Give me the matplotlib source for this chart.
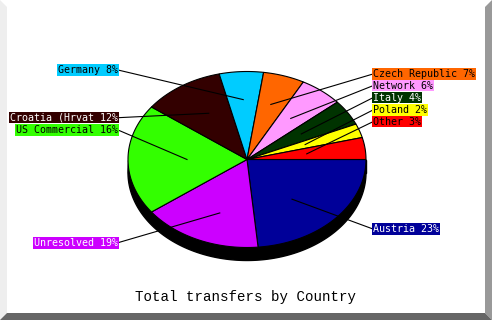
import numpy as np
import matplotlib.pyplot as plt
from matplotlib.patches import Polygon

# data
countries = ['Austria', 'Unresolved', 'US Commercial', 'Croatia (Hrvat', 'Germany',
             'Czech Republic', 'Network', 'Italy', 'Poland', 'Other']
percent = [23, 19, 16, 12, 8, 7, 6, 4, 2, 3]
colors = ['#000099', '#cc00ff', '#33ff00', '#330000', '#00ccff',
          '#ff6600', '#ff99ff', '#003300', '#ffff00', '#ff0000']
text_colors = ['white', 'white', 'black', 'white', 'black',
               'black', 'black', 'white', 'black', 'black']
title = 'Total transfers by Country'

# layout (pixels)
W, H = 492, 320
CX, CY, RX, RY, DEPTH = 247, 159.5, 119, 88, 13
LEADER_R = 60
label_side = ['R', 'L', 'L', 'L', 'L', 'R', 'R', 'R', 'R', 'R']
label_y = [229, 242.7, 130, 117.7, 70, 74, 85.7, 97.7, 110, 121.7]
LEFT_X, RIGHT_X = 118, 373


def ell_pt(theta_deg):
    t = np.radians(theta_deg)
    r = 1.0 / np.sqrt((np.cos(t) / RX) ** 2 + (np.sin(t) / RY) ** 2)
    return CX + r * np.cos(t), CY - r * np.sin(t)


fig = plt.figure(figsize=(W / 100, H / 100), dpi=100)
ax = fig.add_axes([0, 0, 1, 1])
ax.set_xlim(0, W)
ax.set_ylim(H, 0)
ax.axis('off')

# bevel frame
ax.add_patch(Polygon([(0, 0), (7, 7), (7, 313), (0, 320)], closed=True, fc='#eeeeee', ec='none'))
ax.add_patch(Polygon([(485, 7), (492, 0), (492, 320), (485, 313)], closed=True, fc='#999999', ec='none'))
ax.add_patch(Polygon([(0, 320), (7, 313), (485, 313), (492, 320)], closed=True, fc='#666666', ec='none'))

# 3d depth
th = np.linspace(0, 360, 361)
xs, ys = ell_pt(th)
ax.fill(xs, ys + DEPTH, color='black', zorder=1)
ax.fill([CX - RX, CX + RX, CX + RX, CX - RX], [CY, CY, CY + DEPTH, CY + DEPTH], color='black', zorder=1)

# slices, clockwise from 3 o'clock
cum = np.concatenate([[0], np.cumsum(percent)])
total = float(sum(percent))
for i in range(len(percent)):
    a1 = -cum[i] / total * 360
    a2 = -cum[i + 1] / total * 360
    ang = np.linspace(a1, a2, 100)
    px, py = ell_pt(ang)
    ax.fill(np.concatenate([[CX], px]), np.concatenate([[CY], py]),
            fc=colors[i], ec='black', lw=0.8, zorder=2)

# labels + leader lines
for i in range(len(percent)):
    mid = np.radians(-(cum[i] + cum[i + 1]) / 2 / total * 360)
    ix = CX + LEADER_R * np.cos(mid)
    iy = CY - LEADER_R * np.sin(mid)
    txt = '{} {}%'.format(countries[i], percent[i])
    if label_side[i] == 'L':
        lx, ha = LEFT_X, 'right'
    else:
        lx, ha = RIGHT_X, 'left'
    ax.plot([ix, lx], [iy, label_y[i]], color='black', lw=0.8, zorder=3)
    ax.text(lx, label_y[i], txt, ha=ha, va='center', color=text_colors[i],
            family='DejaVu Sans Mono', fontsize=7.2, zorder=4,
            bbox=dict(boxstyle='square,pad=0.08', fc=colors[i], ec='none'))

ax.text(245.5, 297.5, title, ha='center', va='center', family='Liberation Mono',
        fontsize=10.2, color='black')

plt.savefig('out.png', dpi=100)
